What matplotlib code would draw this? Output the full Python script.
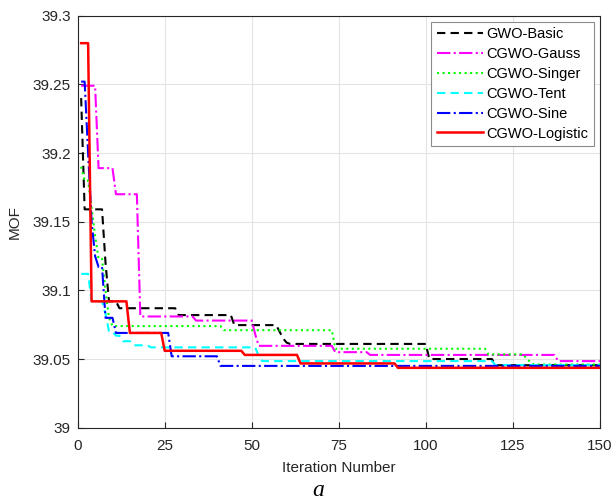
import numpy as np
import matplotlib
matplotlib.use("Agg")
import matplotlib.pyplot as plt

# Step curves: iteration at which each level starts, and the level value
n_iter = 150

basic_start = [1, 2, 8, 9, 12, 29, 45, 58, 59, 60, 61, 101, 120]
basic_val = [39.24, 39.159, 39.12, 39.092, 39.087, 39.082, 39.0747, 39.070, 39.065, 39.062, 39.061, 39.050, 39.0455]

gauss_start = [1, 6, 11, 18, 34, 51, 52, 74, 84, 138]
gauss_val = [39.249, 39.189, 39.170, 39.081, 39.078, 39.068, 39.0596, 39.055, 39.053, 39.0485]

singer_start = [1, 2, 4, 5, 6, 8, 9, 10, 42, 74, 118, 129, 130, 131]
singer_val = [39.19, 39.18, 39.16, 39.14, 39.123, 39.10, 39.08, 39.074, 39.071, 39.0575, 39.0534, 39.05, 39.048, 39.046]

tent_start = [1, 4, 8, 9, 11, 13, 16, 21, 52, 53, 120]
tent_val = [39.112, 39.092, 39.083, 39.070, 39.067, 39.063, 39.060, 39.0585, 39.052, 39.0485, 39.0456]

sine_start = [1, 3, 4, 5, 6, 8, 11, 27, 41]
sine_val = [39.252, 39.20, 39.15, 39.125, 39.117, 39.080, 39.069, 39.052, 39.045]

logistic_start = [1, 4, 15, 25, 48, 64, 92]
logistic_val = [39.28, 39.092, 39.069, 39.056, 39.053, 39.0468, 39.0436]

labels = ["GWO-Basic", "CGWO-Gauss", "CGWO-Singer", "CGWO-Tent", "CGWO-Sine", "CGWO-Logistic"]


def expand(starts, vals, n=n_iter):
    counts = np.diff(starts + [n + 1])
    return np.repeat(vals, counts)


iters = np.arange(1, n_iter + 1)
curves = [expand(basic_start, basic_val), expand(gauss_start, gauss_val),
          expand(singer_start, singer_val), expand(tent_start, tent_val),
          expand(sine_start, sine_val), expand(logistic_start, logistic_val)]
colors = ["k", "#ff00ff", "#00ff00", "#00ffff", "#0000ff", "#ff0000"]
styles = [(0, (4, 2.5)), "-.", ":", (0, (4, 2.5)), "-.", "-"]
widths = [1.5, 1.5, 1.5, 1.5, 1.5, 1.8]

plt.rcParams['font.family'] = ['Liberation Sans', 'DejaVu Sans']

fig = plt.figure(figsize=(6.14, 5.03), dpi=100)
ax = fig.add_axes([0.1265, 0.1497, 0.977 - 0.1265, 0.9688 - 0.1497])

for y, c, ls, lw, lab in zip(curves, colors, styles, widths, labels):
    ax.plot(iters, y, color=c, linestyle=ls, linewidth=lw, label=lab)

ax.set_xlim(0, 150)
ax.set_ylim(39, 39.3)
ax.set_xticks(np.arange(0, 151, 25))
ax.set_yticks(np.arange(39, 39.301, 0.05))
ax.set_yticklabels(["39", "39.05", "39.1", "39.15", "39.2", "39.25", "39.3"])
ax.grid(True, color="#e3e3e3", linewidth=0.8)
ax.set_axisbelow(True)
ax.tick_params(direction="in", labelsize=11, colors="#262626", length=4)
ax.tick_params(axis="x", pad=8)
ax.tick_params(axis="y", pad=5)
for s in ax.spines.values():
    s.set_color("#262626")
    s.set_linewidth(0.8)

ax.set_xlabel("Iteration Number", fontsize=11, color="#262626", labelpad=6)
ax.set_ylabel("MOF", fontsize=11, color="#262626", labelpad=8)

leg = ax.legend(loc="upper right", fontsize=10.5, fancybox=False, framealpha=1,
                edgecolor="#8c8c8c", handlelength=3.2, borderaxespad=0.4,
                labelspacing=0.4, handletextpad=0.2)
leg.get_frame().set_linewidth(0.8)

# panel letter under the axis label
fig.text(0.518, 0.003, "a", family="Liberation Serif", style="italic", fontsize=17,
         ha="center", va="bottom")

fig.savefig("out.png", dpi=100)
